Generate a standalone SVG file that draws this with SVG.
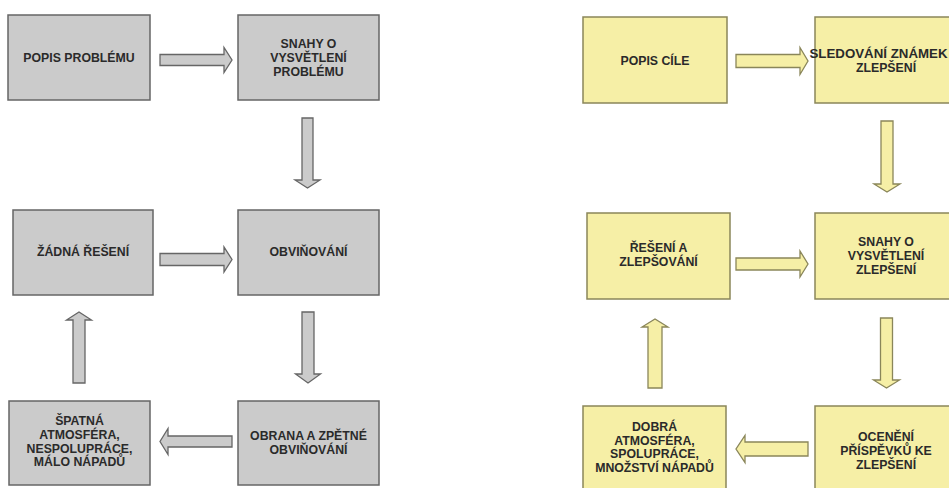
<svg xmlns="http://www.w3.org/2000/svg" width="949" height="488" viewBox="0 0 949 488">
<style>
.g{fill:#cbcbcb;stroke:#666666;stroke-width:1.5}
.y{fill:#f6efa6;stroke:#8a865a;stroke-width:1.5}
.ga{fill:#cbcbcb;stroke:#666666;stroke-width:1.3}
.ya{fill:#f6efa6;stroke:#8a865a;stroke-width:1.3}
text{font-family:"Liberation Sans",Arial,sans-serif;font-weight:bold;font-size:12.3px;text-anchor:middle;fill:#2a2a2a}
</style>
<rect width="949" height="488" fill="#ffffff"/>
<g id="n1"><rect class="g" x="8" y="15" width="142" height="85"/><text x="79" y="62">POPIS PROBLÉMU</text></g>
<g id="n2"><rect class="g" x="238" y="15" width="141" height="85"/><text x="308.5" y="47.5">SNAHY O</text><text x="308.5" y="61.5">VYSVĚTLENÍ</text><text x="308.5" y="76">PROBLÉMU</text></g>
<g id="n3"><rect class="g" x="13" y="210" width="140" height="85"/><text x="83" y="256">ŽÁDNÁ ŘEŠENÍ</text></g>
<g id="n4"><rect class="g" x="238" y="210" width="141" height="85"/><text x="308.5" y="256">OBVIŇOVÁNÍ</text></g>
<g id="n5"><rect class="g" x="9" y="401" width="141" height="84"/><text x="79.5" y="425">ŠPATNÁ</text><text x="79.5" y="439">ATMOSFÉRA,</text><text x="79.5" y="452.5">NESPOLUPRÁCE,</text><text x="79.5" y="466">MÁLO NÁPADŮ</text></g>
<g id="n6"><rect class="g" x="238" y="401" width="141" height="84"/><text x="308.5" y="440">OBRANA A ZPĚTNÉ</text><text x="308.5" y="453.5">OBVIŇOVÁNÍ</text></g>
<g id="m1"><rect class="y" x="583" y="17" width="144" height="86"/><text x="655" y="65">POPIS CÍLE</text></g>
<g id="m2"><rect class="y" x="815" y="17" width="144" height="86"/><text x="878.5" y="57.5" textLength="138" lengthAdjust="spacingAndGlyphs">SLEDOVÁNÍ ZNÁMEK</text><text x="886" y="71.5">ZLEPŠENÍ</text></g>
<g id="m3"><rect class="y" x="587" y="213" width="143" height="86"/><text x="658.5" y="252">ŘEŠENÍ A</text><text x="658.5" y="266">ZLEPŠOVÁNÍ</text></g>
<g id="m4"><rect class="y" x="815" y="213" width="144" height="86"/><text x="886" y="246">SNAHY O</text><text x="886" y="260">VYSVĚTLENÍ</text><text x="886" y="273.5">ZLEPŠENÍ</text></g>
<g id="m5"><rect class="y" x="583" y="406" width="143" height="88"/><text x="654.5" y="431">DOBRÁ</text><text x="654.5" y="444.5">ATMOSFÉRA,</text><text x="654.5" y="458">SPOLUPRÁCE,</text><text x="654.5" y="472">MNOŽSTVÍ NÁPADŮ</text></g>
<g id="m6"><rect class="y" x="815" y="406" width="144" height="88"/><text x="886" y="441">OCENĚNÍ</text><text x="886" y="455">PŘÍSPĚVKŮ KE</text><text x="886" y="468.5">ZLEPŠENÍ</text></g>
<g id="connectors">
<path class="ga" d="M160,54.5 L224,54.5 L224,47.5 L232,60 L224,72.5 L224,65.5 L160,65.5Z"/>
<path class="ga" d="M302,118 L313,118 L313,180 L320,180 L307.5,188 L295,180 L302,180Z"/>
<path class="ga" d="M160,253.5 L224,253.5 L224,247 L232,259.5 L224,272 L224,265.5 L160,265.5Z"/>
<path class="ga" d="M302,312 L314,312 L314,374 L320.5,374 L308,383 L295.5,374 L302,374Z"/>
<path class="ga" d="M232,436 L168,436 L168,428.5 L160,441.5 L168,454.5 L168,447 L232,447Z"/>
<path class="ga" d="M73,383 L85,383 L85,320 L91.5,320 L79,312 L66.5,320 L73,320Z"/>
<path class="ya" d="M736,54.5 L800,54.5 L800,47.5 L808,61 L800,74.5 L800,67.5 L736,67.5Z"/>
<path class="ya" d="M881,121 L893,121 L893,184 L900,184 L887,192 L874,184 L881,184Z"/>
<path class="ya" d="M736,258 L800,258 L800,251 L808,264 L800,277 L800,270 L736,270Z"/>
<path class="ya" d="M880.5,318 L892.5,318 L892.5,380 L899.5,380 L886.5,388 L873.5,380 L880.5,380Z"/>
<path class="ya" d="M808,442 L745,442 L745,435.5 L736,449 L745,462.5 L745,456 L808,456Z"/>
<path class="ya" d="M648,388 L662,388 L662,327 L668,327 L655,319 L642,327 L648,327Z"/>
</g>
</svg>
